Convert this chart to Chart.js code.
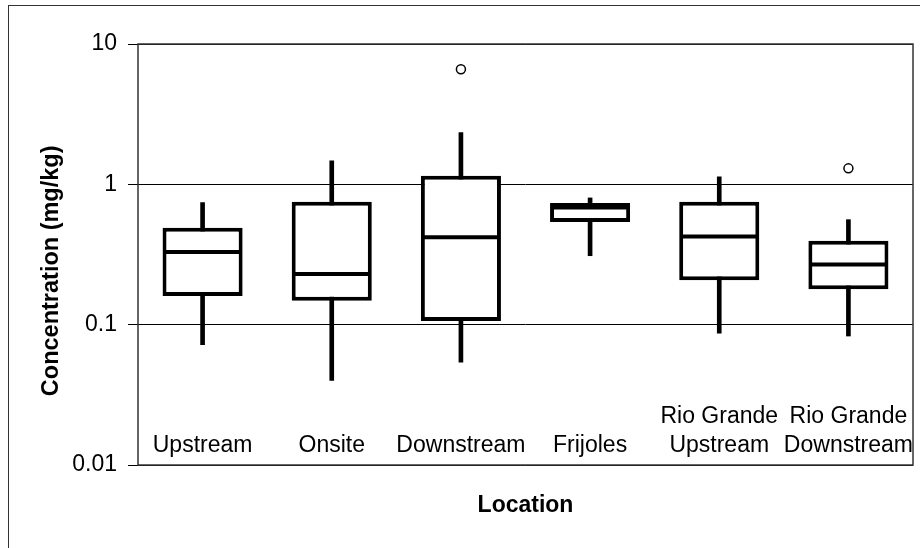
<!DOCTYPE html>
<html>
<head>
<meta charset="utf-8">
<title>Concentration by location</title>
<script src="https://cdn.jsdelivr.net/npm/chart.js@4/dist/chart.umd.min.js"></script>
<style>
  html, body { margin: 0; padding: 0; background: #fff; }
  #wrap { position: relative; width: 920px; height: 548px; overflow: hidden; }
  #frame { position: absolute; left: 8px; top: 5px; width: 2000px; height: 2000px; border-left: 1.5px solid #333; border-top: 1.5px solid #333; }
  #wrap canvas { position: absolute; left: 0; top: 0; }
</style>
</head>
<body>
<div id="wrap">
  <div id="frame"></div>
  <canvas id="chart"></canvas>
</div>
<script>
// box plot figures (mg/kg)
const locations = ['Upstream', 'Onsite', 'Downstream', 'Frijoles', ['Rio Grande', 'Upstream'], ['Rio Grande', 'Downstream']]
const whiskerLow = [0.072, 0.040, 0.054, 0.31, 0.087, 0.083]
const quartile1 = [0.16, 0.148, 0.106, 0.538, 0.207, 0.179]
const medians = [0.33, 0.23, 0.42, 0.685, 0.425, 0.268]
const quartile3 = [0.49, 0.752, 1.15, 0.735, 0.752, 0.396]
const whiskerHigh = [0.74, 1.47, 2.34, 0.80, 1.13, 0.56]
const outliers = [null, null, 6.6, null, null, 1.3]
const yTicks = [0.01, 0.1, 1, 10]

Chart.defaults.font.family = "'Liberation Sans', Arial, sans-serif"
Chart.defaults.color = '#000'

// dark frame round the plot area
const plotFrame = {
  id: 'plotFrame',
  afterDatasetsDraw(chart) {
    const { ctx, chartArea: a } = chart
    ctx.save()
    ctx.strokeStyle = '#333'
    ctx.lineWidth = 1.5
    ctx.strokeRect(a.left, a.top, a.right - a.left, a.bottom - a.top)
    ctx.restore()
  }
}

new Chart(document.getElementById('chart'), {
  type: 'bar',
  data: {
    labels: locations,
    datasets: [
      { type: 'line', data: outliers, showLine: false, pointStyle: 'circle', pointRadius: 4.5,
        pointBackgroundColor: '#fff', pointBorderColor: '#000', pointBorderWidth: 1.5 },
      { type: 'line', data: medians, showLine: false, pointStyle: 'line', pointRadius: 39,
        pointBorderColor: '#000', pointBorderWidth: 4 },
      { data: locations.map((_, i) => [quartile1[i], quartile3[i]]), backgroundColor: '#fff',
        borderColor: '#000', borderWidth: 4, borderSkipped: false, grouped: false,
        barPercentage: 0.62, categoryPercentage: 1 },
      { data: locations.map((_, i) => [whiskerLow[i], whiskerHigh[i]]), backgroundColor: '#000',
        barThickness: 4, grouped: false }
    ]
  },
  options: {
    responsive: true,
    maintainAspectRatio: false,
    devicePixelRatio: 1,
    animation: false,
    events: [],
    layout: { autoPadding: false, padding: { left: 37, top: 44, right: 7, bottom: 28.2 } },
    plugins: { legend: { display: false }, tooltip: { enabled: false } },
    scales: {
      x: {
        grid: { display: false, drawTicks: false },
        border: { display: false },
        // labels sit inside the plot, bottom lines lined up
        ticks: {
          font: { size: 23, lineHeight: 1.27 }, mirror: true, padding: 33.6, maxRotation: 0, autoSkip: false,
          callback: (v, i) => Array.isArray(locations[i]) ? locations[i] : ['', locations[i]]
        },
        afterFit: s => { s.height = 54.8; s.paddingLeft = 0; s.paddingRight = 0 },
        title: { display: true, text: 'Location', font: { size: 23, weight: 'bold' }, padding: 0 }
      },
      y: {
        type: 'logarithmic',
        min: 0.01,
        max: 10,
        afterBuildTicks: s => { s.ticks = yTicks.map(v => ({ value: v })) },
        afterFit: s => { s.width = 101 },
        grid: { color: '#000', lineWidth: 1, tickLength: 10 },
        border: { display: false },
        ticks: { font: { size: 23 }, padding: 11, callback: v => String(v) },
        title: { display: true, text: 'Concentration (mg/kg)     ', font: { size: 23.5, weight: 'bold' }, padding: 0 }
      }
    }
  },
  plugins: [plotFrame]
})
</script>
</body>
</html>
